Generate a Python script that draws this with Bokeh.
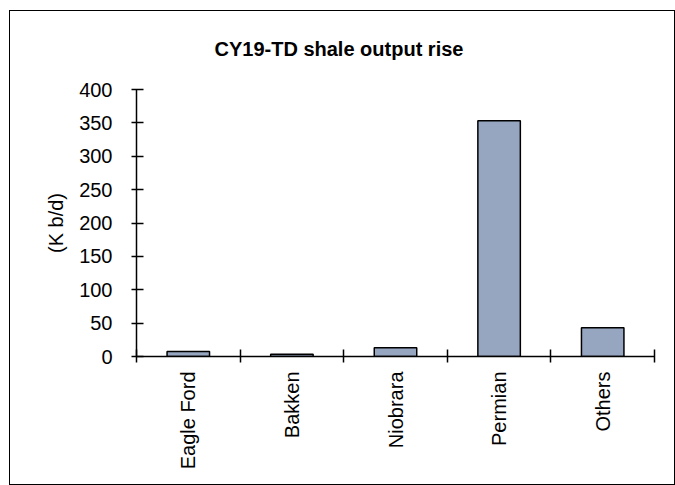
import math
from bokeh.plotting import figure
from bokeh.layouts import column
from bokeh.models import FixedTicker, Range1d, ColumnDataSource
from bokeh.core.properties import value
from bokeh.embed import file_html
from bokeh.resources import INLINE

categories = ["Eagle Ford", "Bakken", "Niobrara", "Permian", "Others"]
values = [7.5, 3.5, 13, 353, 43]
y_ticks = [0, 50, 100, 150, 200, 250, 300, 350, 400]
title_text = "CY19-TD shale output rise"

FONT = "Liberation Sans"
W = 664
LEFT, RIGHT = 126, 20
FRAME_W = W - LEFT - RIGHT
TITLE_H, MAIN_H, LABEL_H = 68, 291, 114

positions = list(range(len(categories)))
boundaries = [i - 0.5 for i in range(len(categories) + 1)]
xr = Range1d(-0.5, len(categories) - 0.5)


def bare(height, x_range, y_range, **kw):
    f = figure(width=W, height=height, output_backend="svg", toolbar_location=None,
               x_range=x_range, y_range=y_range, x_axis_type=None, y_axis_type=None,
               min_border=0, min_border_left=LEFT, min_border_right=RIGHT, **kw)
    f.outline_line_color = None
    f.grid.visible = False
    f.background_fill_color = "white"
    f.border_fill_color = "white"
    return f


# title strip
t = bare(TITLE_H, Range1d(0, FRAME_W), Range1d(0, TITLE_H))
t.text(x=[78], y=[TITLE_H - 37], text=[title_text], text_font=value(FONT),
       text_font_size=value("20px"), text_font_style="bold", text_color="black",
       text_align="left", text_baseline="alphabetic")

# main chart
p = figure(width=W, height=MAIN_H, output_backend="svg", toolbar_location=None,
           x_range=xr, y_range=Range1d(0, 400),
           min_border_left=LEFT, min_border_right=RIGHT, min_border_top=10,
           min_border_bottom=14)
p.outline_line_color = None
p.background_fill_color = "white"
p.border_fill_color = "white"
p.grid.visible = False

src = ColumnDataSource(dict(x=positions, top=values))
p.vbar(x="x", top="top", bottom=0, width=0.41, source=src,
       fill_color="#96A5C0", line_color="black", line_width=1.5)

xa = p.xaxis[0]
xa.ticker = FixedTicker(ticks=positions, minor_ticks=boundaries)
xa.major_label_text_font_size = "0px"
xa.major_label_text_color = None
xa.major_label_standoff = 0
xa.major_tick_in = 0
xa.major_tick_out = 0
xa.minor_tick_in = 7
xa.minor_tick_out = 6
xa.minor_tick_line_color = "black"
xa.minor_tick_line_width = 1.5
xa.axis_line_width = 1.5
xa.axis_line_color = "black"

ya = p.yaxis[0]
ya.ticker = FixedTicker(ticks=y_ticks)
ya.minor_tick_line_color = None
ya.major_tick_in = 7
ya.major_tick_out = 5
ya.major_tick_line_width = 1.5
ya.axis_line_width = 1.5
ya.axis_line_color = "black"
ya.major_tick_line_color = "black"
ya.major_label_text_font = FONT
ya.major_label_text_font_size = "20px"
ya.major_label_text_color = "black"
ya.major_label_standoff = 19
ya.axis_label = "(K b/d)"
ya.axis_label_text_font = FONT
ya.axis_label_text_font_size = "20px"
ya.axis_label_text_font_style = "normal"
ya.axis_label_text_color = "black"
ya.axis_label_standoff = 9

# category labels strip (rotated, top-aligned under the axis)
q = bare(LABEL_H, xr, Range1d(0, LABEL_H))
lsrc = ColumnDataSource(dict(x=positions, y=[LABEL_H - 1] * len(categories),
                             text=categories))
q.text(x="x", y="y", text="text", source=lsrc, angle=math.pi / 2,
       text_font=value(FONT), text_font_size=value("20px"), text_color="black",
       text_align="right", text_baseline="middle")

layout = column(t, p, q, spacing=0)
layout.margin = (10, 0, 0, 9)
layout.styles = {"border": "1.5px solid black", "background": "white"}

open("out.html", "w").write(file_html(layout, INLINE))
